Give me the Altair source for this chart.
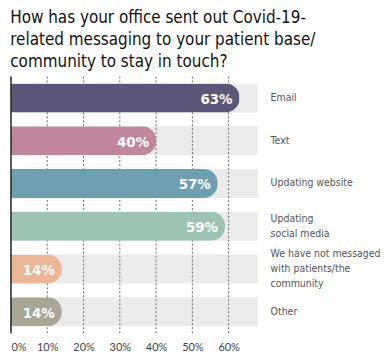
import altair as alt
import pandas as pd

categories = ["Email", "Text", "Updating website", "Updating\nsocial media",
              "We have not messaged\nwith patients/the\ncommunity", "Other"]
values = [63, 40, 57, 59, 14, 14]
colors = ["#5b5677", "#c0869b", "#6e9fb0", "#9cc4b5", "#ebb797", "#a8a795"]
ticks = [0, 10, 20, 30, 40, 50, 60]
grid_ticks = [10, 20, 30, 40, 50, 60]
bg_max = 68
line_h = 15
half_band = 14.5

df = pd.DataFrame({
    "cat": categories,
    "value": values,
    "color": colors,
    "bg": [bg_max] * len(categories),
    "label": [f"{v}%" for v in values],
    "off": [half_band - (c.count("\n")) * line_h / 2 for c in categories],
})
grid_df = pd.DataFrame({"g": grid_ticks})

cond_font = "DejaVu Sans Condensed, sans-serif"

x_scale = alt.Scale(domain=[0, bg_max], nice=False, zero=True)
y_scale = alt.Scale(domain=categories, paddingInner=0.325, paddingOuter=0.1625)

base = alt.Chart(df)

bg = base.mark_bar(color="#ebebeb").encode(
    x=alt.X("bg:Q", scale=x_scale,
            axis=alt.Axis(values=ticks, labelExpr="datum.value + '%'", grid=False,
                          ticks=False, domain=False, title=None, labelFont="Lato",
                          labelFontSize=11, labelColor="#444", labelPadding=8)),
    y=alt.Y("cat:N", scale=y_scale, axis=None, sort=categories),
)

grid = alt.Chart(grid_df).mark_rule(color="#666", strokeDash=[2, 2], strokeWidth=1).encode(
    x=alt.X("g:Q", scale=x_scale)
)

bars = base.mark_bar(cornerRadiusEnd=14).encode(
    x=alt.X("value:Q", scale=x_scale),
    y=alt.Y("cat:N", scale=y_scale, sort=categories),
    color=alt.Color("color:N", scale=None),
)

vlabels = base.mark_text(align="right", baseline="middle", dx=-7, dy=1, color="white",
                         font=cond_font, fontWeight="bold", fontSize=15).encode(
    x=alt.X("value:Q", scale=x_scale),
    y=alt.Y("cat:N", scale=y_scale, sort=categories),
    text="label:N",
)

axis_line = alt.Chart(pd.DataFrame({"z": [0]})).mark_rule(color="#222", strokeWidth=1.5).encode(
    x=alt.X("z:Q", scale=x_scale)
)

clabels = base.mark_text(align="left", baseline="middle", dx=13, color="#555",
                         font=cond_font, fontSize=10.5, lineBreak="\n", lineHeight=line_h).encode(
    x=alt.datum(bg_max),
    y=alt.Y("cat:N", scale=y_scale, sort=categories),
    yOffset=alt.YOffset("off:Q", scale=None),
    text="cat:N",
)

chart = alt.layer(bg, grid, bars, vlabels, axis_line, clabels).properties(
    width=248,
    height=258,
    padding={"left": 2, "top": 0, "right": 0, "bottom": 0},
    title=alt.TitleParams(
        text=["How has your office sent out Covid-19-",
              "related messaging to your patient base/",
              "community to stay in touch?"],
        anchor="start", font=cond_font, fontSize=17, fontWeight="normal",
        color="#111", lineHeight=22, offset=5,
    ),
).configure_view(stroke=None)

chart.save("out.html", embed_options={"renderer": "svg", "actions": False})
